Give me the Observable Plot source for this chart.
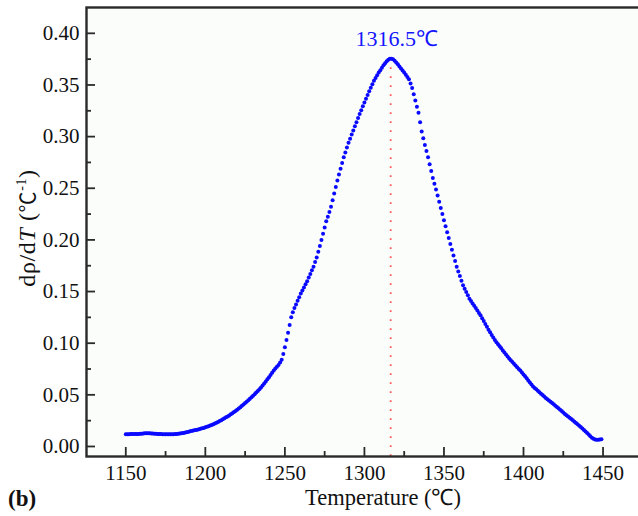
<!DOCTYPE html>
<html><head><meta charset="utf-8">
<script src="https://cdn.jsdelivr.net/npm/d3@7"></script>
<script src="https://cdn.jsdelivr.net/npm/@observablehq/plot@0.6"></script>
<style>
html,body{margin:0;padding:0;background:#fff;overflow:hidden;width:638px;height:516px;}
#chart{position:relative;width:638px;height:516px;overflow:hidden;}
#chart svg{max-width:none !important;}
</style></head><body><div id="chart"></div>
<script>
// Temperatures (°C) start at 1150 with one reading per degree
const tempStart = 1150;
const dRhoDT = [
  0.0118,0.0119,0.0119,0.0120,0.0120,0.0120,0.0121,0.0122,0.0122,0.0123,
  0.0124,0.0125,0.0127,0.0128,0.0128,0.0127,0.0126,0.0125,0.0124,0.0123,
  0.0122,0.0121,0.0120,0.0119,0.0119,0.0118,0.0118,0.0118,0.0119,0.0119,
  0.0119,0.0120,0.0121,0.0123,0.0125,0.0128,0.0131,0.0134,0.0138,0.0141,
  0.0145,0.0149,0.0152,0.0156,0.0159,0.0163,0.0167,0.0172,0.0176,0.0180,
  0.0185,0.0190,0.0196,0.0202,0.0208,0.0215,0.0222,0.0230,0.0238,0.0246,
  0.0255,0.0264,0.0273,0.0282,0.0291,0.0300,0.0311,0.0322,0.0333,0.0344,
  0.0355,0.0368,0.0381,0.0394,0.0407,0.0420,0.0434,0.0448,0.0462,0.0476,
  0.0490,0.0506,0.0522,0.0538,0.0554,0.0570,0.0590,0.0610,0.0630,0.0650,
  0.0670,0.0692,0.0714,0.0735,0.0755,0.0773,0.0790,0.0812,0.0840,0.0895,
  0.0960,0.1030,0.1100,0.1175,0.1250,0.1300,0.1340,0.1375,0.1410,0.1445,
  0.1480,0.1510,0.1540,0.1570,0.1600,0.1635,0.1670,0.1705,0.1740,0.1785,
  0.1830,0.1885,0.1940,0.2000,0.2060,0.2120,0.2180,0.2225,0.2270,0.2320,
  0.2385,0.2450,0.2512,0.2575,0.2632,0.2690,0.2745,0.2800,0.2847,0.2894,
  0.2940,0.2980,0.3020,0.3060,0.3100,0.3140,0.3180,0.3218,0.3255,0.3293,
  0.3330,0.3367,0.3403,0.3440,0.3473,0.3507,0.3540,0.3567,0.3593,0.3620,
  0.3643,0.3667,0.3690,0.3710,0.3730,0.3745,0.3753,0.3755,0.3748,0.3735,
  0.3718,0.3700,0.3680,0.3660,0.3640,0.3620,0.3598,0.3577,0.3555,0.3515,
  0.3470,0.3410,0.3350,0.3290,0.3230,0.3140,0.3050,0.2985,0.2920,0.2860,
  0.2800,0.2733,0.2667,0.2600,0.2543,0.2487,0.2430,0.2370,0.2310,0.2250,
  0.2190,0.2133,0.2075,0.2018,0.1960,0.1905,0.1850,0.1795,0.1740,0.1695,
  0.1650,0.1605,0.1560,0.1528,0.1495,0.1463,0.1430,0.1408,0.1385,0.1363,
  0.1340,0.1317,0.1293,0.1270,0.1242,0.1214,0.1186,0.1158,0.1130,0.1105,
  0.1080,0.1055,0.1030,0.1010,0.0990,0.0970,0.0950,0.0930,0.0910,0.0890,
  0.0870,0.0852,0.0835,0.0818,0.0800,0.0784,0.0768,0.0751,0.0735,0.0716,
  0.0698,0.0679,0.0660,0.0640,0.0620,0.0600,0.0580,0.0566,0.0553,0.0539,
  0.0525,0.0511,0.0498,0.0484,0.0470,0.0458,0.0445,0.0433,0.0420,0.0408,
  0.0395,0.0383,0.0370,0.0356,0.0343,0.0329,0.0315,0.0303,0.0290,0.0278,
  0.0265,0.0253,0.0240,0.0228,0.0215,0.0201,0.0188,0.0174,0.0160,0.0145,
  0.0130,0.0115,0.0100,0.0085,0.0075,0.0068,0.0066,0.0066,0.0067,0.0070
];
const xTicks = [1150, 1200, 1250, 1300, 1350, 1400, 1450];
const xMinorTicks = [1175, 1225, 1275, 1325, 1375, 1425];
const yTicks = [0, 0.05, 0.10, 0.15, 0.20, 0.25, 0.30, 0.35, 0.40];
const yMinorTicks = [0.025, 0.075, 0.125, 0.175, 0.225, 0.275, 0.325, 0.375];
const xDomain = [1125.3, 1474.8];
const yDomain = [-0.0097, 0.425];
const peakTemp = 1316.5;
const peakValue = 0.3755;
const peakLabel = "1316.5℃";

const data = dRhoDT.map((v, i) => ({T: tempStart + i, v}));

const W = 642, H = 516, mL = 86, mR = 0, mT = 7, mB = 60;
const plotW = W - mL - mR, plotH = H - mT - mB;
const axisColor = "#2a2a2a";
const serif = "'Liberation Serif', 'Times New Roman', serif";

const chart = Plot.plot({
  width: W, height: H,
  marginLeft: mL, marginRight: mR, marginTop: mT, marginBottom: mB,
  style: {fontFamily: serif, fontSize: "21px", color: "#111", background: "#fff", overflow: "visible", maxWidth: "none"},
  x: {domain: xDomain, label: null},
  y: {domain: yDomain, label: null},
  marks: [
    Plot.frame({fill: "#fbfdfb", stroke: null}),
    Plot.ruleX([peakTemp], {y1: yDomain[0], y2: peakValue, stroke: "#ff5a5a", strokeWidth: 1.8, strokeDasharray: "1.8 7.2"}),
    Plot.dot(data, {x: "T", y: "v", r: 2, fill: "#0a0aff", stroke: null}),
    Plot.text([peakLabel], {x: peakTemp, y: peakValue, dx: 6, dy: -20, fill: "#1515ff", fontSize: 22, textAnchor: "middle"}),
    Plot.ruleX(xTicks, {insetTop: plotH - 9, stroke: axisColor, strokeWidth: 1.8}),
    Plot.ruleX(xMinorTicks, {insetTop: plotH - 5, stroke: axisColor, strokeWidth: 1.8}),
    Plot.ruleY(yTicks, {insetRight: plotW - 9, stroke: axisColor, strokeWidth: 1.8}),
    Plot.ruleY(yMinorTicks, {insetRight: plotW - 5, stroke: axisColor, strokeWidth: 1.8}),
    Plot.axisX(xTicks, {tickSize: 0, tickPadding: 9, tickFormat: d => String(d), label: null, fill: "#111"}),
    Plot.axisY(yTicks, {tickSize: 0, tickPadding: 7, tickFormat: d3.format(".2f"), label: null, fill: "#111"}),
    Plot.frame({stroke: axisColor, strokeWidth: 2.4})
  ]
});
document.getElementById("chart").appendChild(chart);

const svg = d3.select(chart);
svg.append("text")
  .attr("x", 383).attr("y", 505)
  .attr("text-anchor", "middle")
  .attr("font-family", serif).attr("font-size", 22.5).attr("fill", "#111")
  .text("Temperature (℃)");
svg.append("text")
  .attr("x", 8).attr("y", 506)
  .attr("text-anchor", "start")
  .attr("font-family", serif).attr("font-size", 23).attr("font-weight", "bold").attr("fill", "#111")
  .text("(b)");
const yl = svg.append("text")
  .attr("transform", "translate(35,228) rotate(-90)")
  .attr("text-anchor", "middle")
  .attr("letter-spacing", 0.6)
  .attr("font-family", serif).attr("font-size", 24).attr("fill", "#111");
yl.append("tspan").text("dρ/d");
yl.append("tspan").attr("font-style", "italic").text("T");
yl.append("tspan").text(" (");
yl.append("tspan").attr("font-family", "'Noto Sans CJK SC', serif").attr("font-size", 21).text("℃");
yl.append("tspan").attr("font-size", 14).attr("dy", -9).text("-1");
yl.append("tspan").attr("dy", 9).text(")");
</script>
</body></html>
